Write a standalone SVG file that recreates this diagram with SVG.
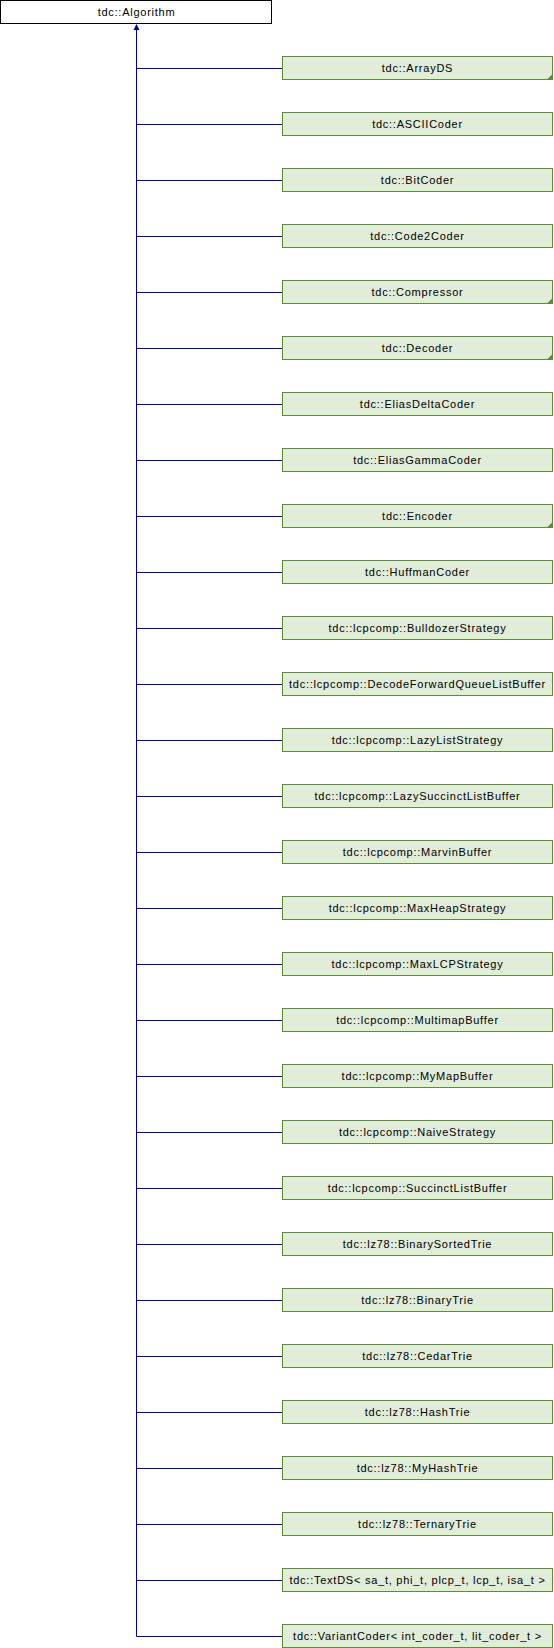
<svg xmlns="http://www.w3.org/2000/svg" width="554" height="1648" viewBox="0 0 554 1648">
<style>
.bg{fill:#ffffff}
.base rect{fill:#ffffff;stroke:#000000;stroke-width:1}
.node rect{fill:#e1ecd9;stroke:#5e8c3e;stroke-width:1}
.corner{fill:#5e8c3e}
text{font-family:"Liberation Sans",Arial,sans-serif;font-size:11px;letter-spacing:0.75px;fill:#000000;text-anchor:middle}
.edges line{stroke:#0000a0;stroke-width:1}
.edges polygon{fill:#0000a0}
</style>
<rect class="bg" x="0" y="0" width="554" height="1648"/>
<g id="tdc-Algorithm" class="base">
<rect x="0.5" y="0.5" width="271" height="23"/>
<text x="136.5" y="15.5">tdc::Algorithm</text>
</g>
<g id="connectors" class="edges">
<line x1="136.5" y1="29" x2="136.5" y2="1636.5"/>
<polygon points="136.5,24 133.5,30 139.5,30"/>
<line x1="136.5" y1="68.5" x2="282.5" y2="68.5"/>
<line x1="136.5" y1="124.5" x2="282.5" y2="124.5"/>
<line x1="136.5" y1="180.5" x2="282.5" y2="180.5"/>
<line x1="136.5" y1="236.5" x2="282.5" y2="236.5"/>
<line x1="136.5" y1="292.5" x2="282.5" y2="292.5"/>
<line x1="136.5" y1="348.5" x2="282.5" y2="348.5"/>
<line x1="136.5" y1="404.5" x2="282.5" y2="404.5"/>
<line x1="136.5" y1="460.5" x2="282.5" y2="460.5"/>
<line x1="136.5" y1="516.5" x2="282.5" y2="516.5"/>
<line x1="136.5" y1="572.5" x2="282.5" y2="572.5"/>
<line x1="136.5" y1="628.5" x2="282.5" y2="628.5"/>
<line x1="136.5" y1="684.5" x2="282.5" y2="684.5"/>
<line x1="136.5" y1="740.5" x2="282.5" y2="740.5"/>
<line x1="136.5" y1="796.5" x2="282.5" y2="796.5"/>
<line x1="136.5" y1="852.5" x2="282.5" y2="852.5"/>
<line x1="136.5" y1="908.5" x2="282.5" y2="908.5"/>
<line x1="136.5" y1="964.5" x2="282.5" y2="964.5"/>
<line x1="136.5" y1="1020.5" x2="282.5" y2="1020.5"/>
<line x1="136.5" y1="1076.5" x2="282.5" y2="1076.5"/>
<line x1="136.5" y1="1132.5" x2="282.5" y2="1132.5"/>
<line x1="136.5" y1="1188.5" x2="282.5" y2="1188.5"/>
<line x1="136.5" y1="1244.5" x2="282.5" y2="1244.5"/>
<line x1="136.5" y1="1300.5" x2="282.5" y2="1300.5"/>
<line x1="136.5" y1="1356.5" x2="282.5" y2="1356.5"/>
<line x1="136.5" y1="1412.5" x2="282.5" y2="1412.5"/>
<line x1="136.5" y1="1468.5" x2="282.5" y2="1468.5"/>
<line x1="136.5" y1="1524.5" x2="282.5" y2="1524.5"/>
<line x1="136.5" y1="1580.5" x2="282.5" y2="1580.5"/>
<line x1="136.5" y1="1636.5" x2="282.5" y2="1636.5"/>
</g>
<g id="n01" class="node"><rect x="282.5" y="56.5" width="270" height="23"/><polygon class="corner" points="546.5,80 553,80 553,73.5"/><text x="417.5" y="71.5">tdc::ArrayDS</text></g>
<g id="n02" class="node"><rect x="282.5" y="112.5" width="270" height="23"/><text x="417.5" y="127.5">tdc::ASCIICoder</text></g>
<g id="n03" class="node"><rect x="282.5" y="168.5" width="270" height="23"/><text x="417.5" y="183.5">tdc::BitCoder</text></g>
<g id="n04" class="node"><rect x="282.5" y="224.5" width="270" height="23"/><text x="417.5" y="239.5">tdc::Code2Coder</text></g>
<g id="n05" class="node"><rect x="282.5" y="280.5" width="270" height="23"/><polygon class="corner" points="546.5,304 553,304 553,297.5"/><text x="417.5" y="295.5">tdc::Compressor</text></g>
<g id="n06" class="node"><rect x="282.5" y="336.5" width="270" height="23"/><polygon class="corner" points="546.5,360 553,360 553,353.5"/><text x="417.5" y="351.5">tdc::Decoder</text></g>
<g id="n07" class="node"><rect x="282.5" y="392.5" width="270" height="23"/><text x="417.5" y="407.5">tdc::EliasDeltaCoder</text></g>
<g id="n08" class="node"><rect x="282.5" y="448.5" width="270" height="23"/><text x="417.5" y="463.5">tdc::EliasGammaCoder</text></g>
<g id="n09" class="node"><rect x="282.5" y="504.5" width="270" height="23"/><polygon class="corner" points="546.5,528 553,528 553,521.5"/><text x="417.5" y="519.5">tdc::Encoder</text></g>
<g id="n10" class="node"><rect x="282.5" y="560.5" width="270" height="23"/><text x="417.5" y="575.5">tdc::HuffmanCoder</text></g>
<g id="n11" class="node"><rect x="282.5" y="616.5" width="270" height="23"/><text x="417.5" y="631.5">tdc::lcpcomp::BulldozerStrategy</text></g>
<g id="n12" class="node"><rect x="282.5" y="672.5" width="270" height="23"/><text x="417.5" y="687.5">tdc::lcpcomp::DecodeForwardQueueListBuffer</text></g>
<g id="n13" class="node"><rect x="282.5" y="728.5" width="270" height="23"/><text x="417.5" y="743.5">tdc::lcpcomp::LazyListStrategy</text></g>
<g id="n14" class="node"><rect x="282.5" y="784.5" width="270" height="23"/><text x="417.5" y="799.5">tdc::lcpcomp::LazySuccinctListBuffer</text></g>
<g id="n15" class="node"><rect x="282.5" y="840.5" width="270" height="23"/><text x="417.5" y="855.5">tdc::lcpcomp::MarvinBuffer</text></g>
<g id="n16" class="node"><rect x="282.5" y="896.5" width="270" height="23"/><text x="417.5" y="911.5">tdc::lcpcomp::MaxHeapStrategy</text></g>
<g id="n17" class="node"><rect x="282.5" y="952.5" width="270" height="23"/><text x="417.5" y="967.5">tdc::lcpcomp::MaxLCPStrategy</text></g>
<g id="n18" class="node"><rect x="282.5" y="1008.5" width="270" height="23"/><text x="417.5" y="1023.5">tdc::lcpcomp::MultimapBuffer</text></g>
<g id="n19" class="node"><rect x="282.5" y="1064.5" width="270" height="23"/><text x="417.5" y="1079.5">tdc::lcpcomp::MyMapBuffer</text></g>
<g id="n20" class="node"><rect x="282.5" y="1120.5" width="270" height="23"/><text x="417.5" y="1135.5">tdc::lcpcomp::NaiveStrategy</text></g>
<g id="n21" class="node"><rect x="282.5" y="1176.5" width="270" height="23"/><text x="417.5" y="1191.5">tdc::lcpcomp::SuccinctListBuffer</text></g>
<g id="n22" class="node"><rect x="282.5" y="1232.5" width="270" height="23"/><text x="417.5" y="1247.5">tdc::lz78::BinarySortedTrie</text></g>
<g id="n23" class="node"><rect x="282.5" y="1288.5" width="270" height="23"/><text x="417.5" y="1303.5">tdc::lz78::BinaryTrie</text></g>
<g id="n24" class="node"><rect x="282.5" y="1344.5" width="270" height="23"/><text x="417.5" y="1359.5">tdc::lz78::CedarTrie</text></g>
<g id="n25" class="node"><rect x="282.5" y="1400.5" width="270" height="23"/><text x="417.5" y="1415.5">tdc::lz78::HashTrie</text></g>
<g id="n26" class="node"><rect x="282.5" y="1456.5" width="270" height="23"/><text x="417.5" y="1471.5">tdc::lz78::MyHashTrie</text></g>
<g id="n27" class="node"><rect x="282.5" y="1512.5" width="270" height="23"/><text x="417.5" y="1527.5">tdc::lz78::TernaryTrie</text></g>
<g id="n28" class="node"><rect x="282.5" y="1568.5" width="270" height="23"/><text x="417.5" y="1583.5">tdc::TextDS&lt; sa_t, phi_t, plcp_t, lcp_t, isa_t &gt;</text></g>
<g id="n29" class="node"><rect x="282.5" y="1624.5" width="270" height="23"/><text x="417.5" y="1639.5">tdc::VariantCoder&lt; int_coder_t, lit_coder_t &gt;</text></g>
</svg>
